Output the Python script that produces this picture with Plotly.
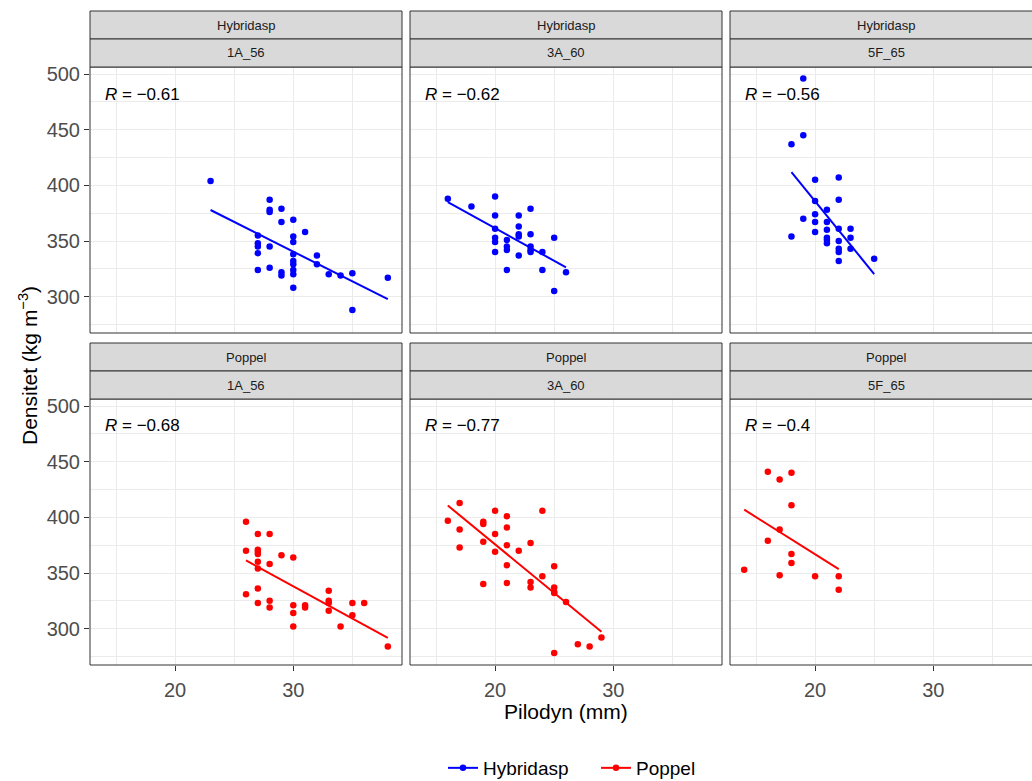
import numpy as np
import plotly.graph_objects as go

# ---------------- data ----------------
species = ["Hybridasp", "Hybridasp", "Hybridasp", "Poppel", "Poppel", "Poppel"]
sites = ["1A_56", "3A_60", "5F_65", "1A_56", "3A_60", "5F_65"]
r_labels = ["−0.61", "−0.62", "−0.56", "−0.68", "−0.77", "−0.4"]

hyb_1a_x = [23, 28, 28, 28, 29, 29, 30, 31, 27, 27, 27, 28, 27, 30, 30, 30, 30, 30, 30, 30,
            27, 28, 29, 29, 30, 32, 32, 33, 34, 35, 35, 38]
hyb_1a_y = [404, 387, 378, 376, 379, 367, 369, 358, 355, 348, 345, 345, 339, 354, 349, 338, 332, 329, 324, 320,
            324, 326, 322, 319, 308, 337, 329, 320, 319, 321, 288, 317]

hyb_3a_x = [16, 18, 20, 20, 20, 20, 20, 20, 21, 21, 21, 21, 22, 22, 22, 22, 22, 23, 23, 23, 23, 23,
            24, 24, 25, 25, 26]
hyb_3a_y = [388, 381, 390, 373, 361, 353, 349, 340, 351, 345, 342, 324, 373, 363, 356, 354, 337, 379, 356, 345, 342, 340,
            340, 324, 353, 305, 322]

hyb_5f_x = [19, 19, 18, 20, 22, 22, 20, 21, 20, 19, 20, 21, 21, 22, 23, 20, 18, 21, 21, 21, 22, 23,
            22, 22, 23, 22, 25]
hyb_5f_y = [496, 445, 437, 405, 407, 387, 386, 378, 374, 370, 367, 367, 360, 361, 361, 358, 354, 353, 351, 348, 350, 353,
            343, 340, 343, 332, 334]

pop_1a_x = [26, 27, 28, 26, 27, 27, 27, 29, 30, 27, 28, 27, 27, 26, 27, 28, 28, 30, 30, 30,
            31, 31, 33, 33, 33, 33, 34, 35, 36, 35, 38]
pop_1a_y = [396, 385, 385, 370, 371, 369, 367, 366, 364, 360, 358, 354, 336, 331, 323, 325, 319, 321, 314, 302,
            321, 319, 334, 325, 323, 316, 302, 323, 323, 312, 284]

pop_3a_x = [17, 16, 17, 17, 19, 19, 19, 19, 20, 20, 20, 21, 21, 21, 21, 21, 22, 23, 23, 23,
            24, 24, 25, 25, 25, 25, 26, 25, 27, 28, 29]
pop_3a_y = [413, 397, 389, 373, 396, 394, 378, 340, 406, 385, 369, 401, 391, 375, 357, 341, 370, 377, 342, 337,
            406, 347, 356, 337, 333, 332, 324, 278, 286, 284, 292]

pop_5f_x = [16, 17, 18, 18, 17, 16, 18, 18, 14, 17, 20, 22, 22]
pop_5f_y = [441, 434, 440, 411, 389, 379, 367, 359, 353, 348, 347, 347, 335]

panel_x = [hyb_1a_x, hyb_3a_x, hyb_5f_x, pop_1a_x, pop_3a_x, pop_5f_x]
panel_y = [hyb_1a_y, hyb_3a_y, hyb_5f_y, pop_1a_y, pop_3a_y, pop_5f_y]

x_tickvals = [20, 30]
x_ticktext = ["20", "30"]
x_minor = [15, 25, 35]
y_tickvals = [300, 350, 400, 450, 500]
y_ticktext = ["300", "350", "400", "450", "500"]
y_minor = [275, 325, 375, 425, 475]

# ---------------- layout geometry ----------------
W, H = 1032, 781
FONT = "Liberation Sans, Arial, sans-serif"
colors = {"Hybridasp": "#0000FF", "Poppel": "#FF0000"}
col_px = [(90, 402), (410, 722), (730, 1042)]
row_px = [(67, 333), (399, 665)]
strip_px = [((11, 39), (39, 67)), ((343, 371), (371, 399))]
x_range = [12.8, 39.2]
y_range = [267.3, 506.4]
px_per_x = (col_px[0][1] - col_px[0][0]) / (x_range[1] - x_range[0])

def px(xv):
    return xv / W

def py(yv):
    return 1 - yv / H

fig = go.Figure()
layout = dict(
    width=W, height=H,
    margin=dict(l=0, r=0, t=0, b=0, autoexpand=False),
    paper_bgcolor="white", plot_bgcolor="white",
    font=dict(family=FONT, color="black"),
    showlegend=True,
)
shapes = []
annotations = []

for i in range(6):
    r, c = divmod(i, 3)
    sfx = "" if i == 0 else str(i + 1)
    xa, ya = "x" + sfx, "y" + sfx
    x0p, x1p = col_px[c]
    y0p, y1p = row_px[r]
    sp = species[i]
    col = colors[sp]
    xs = panel_x[i]
    ys = panel_y[i]

    # points
    fig.add_trace(go.Scatter(x=xs, y=ys, mode="markers", xaxis=xa, yaxis=ya,
                             marker=dict(color=col, size=6.5), showlegend=False,
                             hoverinfo="x+y"))
    # linear fit
    coef = np.polyfit(xs, ys, 1)
    xl = np.array([min(xs), max(xs)], dtype=float)
    fig.add_trace(go.Scatter(x=xl, y=np.polyval(coef, xl), mode="lines", xaxis=xa, yaxis=ya,
                             line=dict(color=col, width=2), showlegend=False, hoverinfo="skip"))

    dom_x1 = min(x1p, W)
    xr = [x_range[0], x_range[0] + (dom_x1 - x0p) / px_per_x]
    bottom = (r == 1)
    left = (c == 0)
    layout["xaxis" + sfx] = dict(
        domain=[px(x0p), px(dom_x1)], range=xr, anchor=ya,
        tickmode="array", tickvals=x_tickvals, ticktext=x_ticktext,
        showticklabels=bottom, ticks="outside" if bottom else "", ticklen=5,
        tickcolor="#333333", tickwidth=1,
        tickfont=dict(size=20, color="#4D4D4D", family=FONT),
        showgrid=True, gridcolor="#EBEBEB", gridwidth=1,
        minor=dict(tickmode="array", tickvals=x_minor, showgrid=True,
                   gridcolor="#EBEBEB", gridwidth=0.6, ticks=""),
        zeroline=False, showline=False, fixedrange=True,
    )
    if bottom:
        layout["xaxis" + sfx]["ticklabelstandoff"] = 2
    layout["yaxis" + sfx] = dict(
        domain=[py(y1p), py(y0p)], range=y_range, anchor=xa,
        tickmode="array", tickvals=y_tickvals, ticktext=y_ticktext,
        showticklabels=left, ticks="outside" if left else "", ticklen=5,
        tickcolor="#333333", tickwidth=1,
        tickfont=dict(size=20, color="#4D4D4D", family=FONT),
        showgrid=True, gridcolor="#EBEBEB", gridwidth=1,
        minor=dict(tickmode="array", tickvals=y_minor, showgrid=True,
                   gridcolor="#EBEBEB", gridwidth=0.6, ticks=""),
        zeroline=False, showline=False, fixedrange=True,
    )

    # panel border
    shapes.append(dict(type="rect", xref="paper", yref="paper",
                       x0=px(x0p), x1=px(x1p), y0=py(y1p), y1=py(y0p),
                       line=dict(color="#333333", width=1), fillcolor="rgba(0,0,0,0)",
                       layer="above"))
    # strips
    for k, (s0, s1) in enumerate(strip_px[r]):
        shapes.append(dict(type="rect", xref="paper", yref="paper",
                           x0=px(x0p), x1=px(x1p), y0=py(s1), y1=py(s0),
                           line=dict(color="#333333", width=1), fillcolor="#D9D9D9",
                           layer="above"))
        annotations.append(dict(text=sp if k == 0 else sites[i], xref="paper", yref="paper",
                                x=px((x0p + x1p) / 2), y=py((s0 + s1) / 2),
                                xanchor="center", yanchor="middle", showarrow=False,
                                font=dict(size=13, color="#1A1A1A", family=FONT)))
    # correlation label
    annotations.append(dict(text="<i>R</i> = " + r_labels[i], xref="paper", yref="paper",
                            x=px(x0p + 13), y=py(y0p + 27), xanchor="left", yanchor="middle",
                            showarrow=False, font=dict(size=17, color="black", family=FONT)))

# legend entries
for sp in ["Hybridasp", "Poppel"]:
    fig.add_trace(go.Scatter(x=[None], y=[None], mode="lines+markers", name=sp,
                             line=dict(color=colors[sp], width=2),
                             marker=dict(color=colors[sp], size=6.5),
                             xaxis="x", yaxis="y", hoverinfo="skip"))

# axis titles
annotations.append(dict(text="Pilodyn (mm)", xref="paper", yref="paper",
                        x=px(566), y=py(711), xanchor="center", yanchor="middle",
                        showarrow=False, font=dict(size=21, color="black", family=FONT)))
annotations.append(dict(text="Densitet (kg m<sup>−3</sup>)", xref="paper", yref="paper",
                        x=px(28), y=py(366), xanchor="center", yanchor="middle", textangle=-90,
                        showarrow=False, font=dict(size=21, color="black", family=FONT)))

layout["shapes"] = shapes
layout["annotations"] = annotations
layout["legend"] = dict(orientation="h", x=px(596), xanchor="center", y=py(768), yanchor="middle",
                        font=dict(size=19, color="black", family=FONT), bgcolor="rgba(0,0,0,0)",
                        itemwidth=30, entrywidth=108)
fig.update_layout(**layout)
fig.write_html("out.html")
